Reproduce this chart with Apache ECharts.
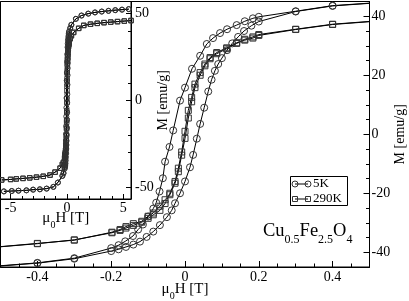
<!DOCTYPE html>
<html><head><meta charset="utf-8">
<script src="https://cdn.jsdelivr.net/npm/echarts@6/dist/echarts.min.js"></script>
<style>html,body{margin:0;padding:0;background:#fff}#c{width:409px;height:301px}</style>
</head><body><div id="c"></div>
<script>
// 5 K loop: descending-field branch
const H5Kdown = [5.5,4.9,4.3,3.7,3.1,2.5,1.9,1.3,0.8,0.4,0.3,0.2,0.184,0.162,0.14,0.114,0.095,0.076,0.059,0.041,0.019,0,-0.0135,-0.032,-0.042,-0.054,-0.060,-0.069,-0.078,-0.086,-0.1,-0.114,-0.127,-0.141,-0.162,-0.18,-0.2,-0.3,-0.4,-0.8,-1.2,-1.8,-2.4,-3.0,-3.6,-4.3,-4.9,-5.6];
const M5Kdown = [52.6,52.3,52.0,51.6,51.2,50.7,50.0,48.9,47.0,43.6,41.7,39.8,39.3,38.3,37.0,35.6,34.3,32.6,30.6,26.6,22.2,15.8,11.4,1.3,-4.3,-9.3,-14.9,-19.4,-23.2,-25.2,-27.9,-30.6,-32.3,-34.5,-36.3,-37.6,-38.6,-42.0,-43.6,-47.5,-50.0,-51.0,-51.4,-51.6,-52.0,-52.2,-52.4,-52.6];
// 5 K loop: ascending-field branch
const H5Kup = [-5.6,-4.9,-4.3,-3.6,-3.0,-2.4,-1.8,-1.2,-0.8,-0.4,-0.3,-0.2,-0.18,-0.16,-0.14,-0.122,-0.104,-0.086,-0.068,-0.049,-0.036,-0.027,-0.0135,0,0.0135,0.022,0.032,0.041,0.052,0.063,0.072,0.081,0.09,0.1,0.114,0.128,0.144,0.16,0.18,0.2,0.3,0.4,0.8,1.3,1.9,2.5,3.1,3.7,4.3,4.9,5.5];
const M5Kup = [-52.6,-52.4,-52.2,-52.0,-51.6,-51.4,-51.0,-50.0,-47.5,-43.7,-42.2,-39.6,-39.0,-38.2,-37.4,-36.4,-34.8,-33.0,-30.8,-28.1,-25.8,-23.4,-20.0,-16.0,-11.2,-7.0,-1.5,3.5,9.0,14.5,18.5,21.5,23.8,25.8,28.5,30.8,33.0,35.0,36.8,38.2,41.6,43.5,47.0,48.9,50.0,50.7,51.2,51.6,52.0,52.3,52.6];
// 290 K loop: descending-field branch
const H290down = [5.7,5.1,4.5,3.9,3.3,2.7,2.1,1.5,1.05,0.6,0.4,0.3,0.2,0.184,0.162,0.14,0.113,0.086,0.068,0.054,0.041,0.027,0.018,0.009,0,-0.009,-0.018,-0.027,-0.041,-0.054,-0.068,-0.086,-0.1,-0.117,-0.14,-0.16,-0.176,-0.198,-0.3,-0.4,-0.6,-1.05,-1.5,-2.1,-2.7,-3.3,-3.9,-4.5,-5.0,-5.8];
const M290down = [46.0,45.7,45.4,45.1,44.8,44.4,43.9,43.2,41.5,39.2,37.3,35.6,33.8,33.0,32.2,31.0,29.3,27.7,26.0,23.8,20.9,17.0,12.5,8.1,1.0,-6.0,-11.5,-16.0,-20.0,-23.5,-25.8,-27.3,-28.5,-29.8,-30.9,-31.8,-32.6,-33.4,-35.8,-37.1,-39.2,-41.5,-43.2,-43.9,-44.4,-44.8,-45.1,-45.4,-45.7,-46.0];
// 290 K loop: ascending-field branch
const H290up = [-5.8,-5.0,-4.5,-3.9,-3.3,-2.7,-2.1,-1.5,-1.05,-0.6,-0.4,-0.3,-0.198,-0.176,-0.16,-0.14,-0.117,-0.1,-0.086,-0.068,-0.054,-0.041,-0.027,-0.018,-0.009,0,0.009,0.018,0.027,0.041,0.054,0.068,0.086,0.113,0.14,0.162,0.184,0.2,0.3,0.4,0.6,1.05,1.5,2.1,2.7,3.3,3.9,4.5,5.1,5.7];
const M290up = [-46.0,-45.7,-45.4,-45.1,-44.8,-44.4,-43.9,-43.2,-41.5,-39.2,-37.0,-35.9,-33.2,-32.3,-31.3,-30.3,-29.5,-27.8,-26.7,-24.4,-22.2,-20.5,-16.6,-12.7,-7.1,-1.4,5.5,11.0,15.8,20.0,23.2,25.6,27.3,29.0,30.8,31.9,32.6,33.5,35.5,37.2,39.1,41.5,43.2,43.9,44.4,44.8,45.1,45.4,45.7,46.0];

// ticks
const mainXTicks = [-0.4,-0.2,0,0.2,0.4];
const mainXMinor = [-0.45,-0.35,-0.3,-0.25,-0.15,-0.1,-0.05,0.05,0.1,0.15,0.25,0.3,0.35,0.45];
const mainYTicks = [-40,-20,0,20,40];
const mainYMinor = [-35,-30,-25,-15,-10,-5,5,10,15,25,30,35];
const insetXTicks = [-5,0,5];
const insetXMinor = [-4,-3,-2,-1,1,2,3,4];
const insetYTicks = [-50,0,50];
const insetYMinor = [-40,-30,-20,-10,10,20,30,40];
const legendNames = ['5K','290K'];

const zip = (a,b) => a.map((v,i) => [v,b[i]]);
const FONT = 'Liberation Serif';
const lbl = {color:'#000', fontFamily:FONT, fontSize:14};
const nameRich = {
  n:{fontFamily:FONT,fontSize:15,color:'#000',lineHeight:16,padding:[0,0,4,0],verticalAlign:'bottom'},
  s:{fontFamily:FONT,fontSize:10,color:'#000',lineHeight:10,verticalAlign:'bottom'}
};
function xAx(grid,min,max,ticks,minor,name,gap,tl,ml,margin){
  return [{
    type:'value',gridIndex:grid,min:min,max:max,position:'bottom',
    axisLine:{show:true,onZero:false,lineStyle:{color:'#000',width:1}},
    axisTick:{show:true,inside:true,length:tl,customValues:ticks,lineStyle:{color:'#000'}},
    axisLabel:{customValues:ticks,margin:margin,...lbl},
    splitLine:{show:false},
    name:name,nameLocation:'middle',nameGap:gap,nameMoveOverlap:false,nameTextStyle:{rich:nameRich}
  },{
    type:'value',gridIndex:grid,min:min,max:max,position:'bottom',
    axisLine:{show:false,onZero:false},
    axisTick:{show:true,inside:true,length:ml,customValues:minor,lineStyle:{color:'#000'}},
    axisLabel:{show:false},splitLine:{show:false}
  }];
}
function yAx(grid,min,max,ticks,minor,name,gap,tl,ml,margin){
  return [{
    type:'value',gridIndex:grid,min:min,max:max,position:'right',
    axisLine:{show:true,onZero:false,lineStyle:{color:'#000',width:1}},
    axisTick:{show:true,inside:true,length:tl,customValues:ticks,lineStyle:{color:'#000'}},
    axisLabel:{customValues:ticks,margin:margin,...lbl},
    splitLine:{show:false},
    name:name,nameLocation:'middle',nameGap:gap,nameMoveOverlap:false,nameTextStyle:{color:'#000',fontFamily:FONT,fontSize:14}
  },{
    type:'value',gridIndex:grid,min:min,max:max,position:'right',
    axisLine:{show:false,onZero:false},
    axisTick:{show:true,inside:true,length:ml,customValues:minor,lineStyle:{color:'#000'}},
    axisLabel:{show:false},splitLine:{show:false}
  }];
}
function ser(name,H,M,sym,size,xi,yi){
  return {type:'line',name:name,xAxisIndex:xi,yAxisIndex:yi,data:zip(H,M),
    symbol:sym,symbolSize:size,showSymbol:true,showAllSymbol:true,clip:true,
    lineStyle:{color:'#000',width:1},
    itemStyle:{color:'rgba(0,0,0,0)',borderColor:'#333',borderWidth:1},
    emphasis:{disabled:true},z:3};
}
const chart = echarts.init(document.getElementById('c'),null,{renderer:'canvas'});
chart.setOption({
  animation:false,
  backgroundColor:'#fff',
  grid:[
    {left:0.5,top:1.5,width:369,height:265.5,show:true,borderColor:'#000',borderWidth:1,backgroundColor:'transparent',containLabel:false,outerBoundsMode:'none'},
    {left:0.5,top:1.5,width:130.5,height:197.5,show:true,borderColor:'#000',borderWidth:1,backgroundColor:'#fff',containLabel:false,outerBoundsMode:'none'}
  ],
  xAxis:[
    ...xAx(0,-0.5,0.5,mainXTicks,mainXMinor,'{n|μ}{s|0}{n|H [T]}',18,6,3.5,3),
    ...xAx(1,-5.9,5.7,insetXTicks,insetXMinor,'{n|μ}{s|0}{n|H [T]}',15,5,3,2)
  ],
  yAxis:[
    ...yAx(0,-45,45,mainYTicks,mainYMinor,'M [emu/g]',24,6,3.5,2),
    ...yAx(1,-57,57,insetYTicks,insetYMinor,'M [emu/g]',25,5,3,4)
  ],
  series:[
    ser(legendNames[1],H290down,M290down,'rect',6,0,0),
    ser(legendNames[1],H290up,M290up,'rect',6,0,0),
    ser(legendNames[0],H5Kdown,M5Kdown,'circle',7,0,0),
    ser(legendNames[0],H5Kup,M5Kup,'circle',7,0,0),
    ser(legendNames[1],H290down,M290down,'rect',4.5,2,2),
    ser(legendNames[1],H290up,M290up,'rect',4.5,2,2),
    ser(legendNames[0],H5Kdown,M5Kdown,'circle',5,2,2),
    ser(legendNames[0],H5Kup,M5Kup,'circle',5,2,2)
  ],
  graphic:[
    {type:'rect',shape:{x:290.5,y:176.5,width:57,height:29},style:{fill:'#fff',stroke:'#000',lineWidth:1},z:10},
    {type:'line',shape:{x1:295,y1:184,x2:308,y2:184},style:{stroke:'#000',lineWidth:1},z:11},
    {type:'circle',shape:{cx:295,cy:184,r:3},style:{fill:'none',stroke:'#333',lineWidth:1},z:12},
    {type:'circle',shape:{cx:308,cy:184,r:3},style:{fill:'none',stroke:'#333',lineWidth:1},z:12},
    {type:'text',x:313,y:184,style:{text:legendNames[0],font:'13px "Liberation Serif"',fill:'#000',verticalAlign:'middle'},z:12},
    {type:'line',shape:{x1:295,y1:199,x2:308,y2:199},style:{stroke:'#000',lineWidth:1},z:11},
    {type:'rect',shape:{x:292.5,y:196.5,width:5,height:5},style:{fill:'none',stroke:'#333',lineWidth:1},z:12},
    {type:'rect',shape:{x:305.5,y:196.5,width:5,height:5},style:{fill:'none',stroke:'#333',lineWidth:1},z:12},
    {type:'text',x:313,y:199,style:{text:legendNames[1],font:'13px "Liberation Serif"',fill:'#000',verticalAlign:'middle'},z:12},
    {type:'text',x:263,y:227,z:12,style:{
      text:'{n|Cu}{s|0.5}{n|Fe}{s|2.5}{n|O}{s|4}',
      rich:{
        n:{fontFamily:FONT,fontSize:18.5,fill:'#000',lineHeight:19,padding:[0,0,5,0],verticalAlign:'bottom'},
        s:{fontFamily:FONT,fontSize:12,fill:'#000',lineHeight:12,verticalAlign:'bottom'}
      }}}
  ]
});
</script></body></html>
